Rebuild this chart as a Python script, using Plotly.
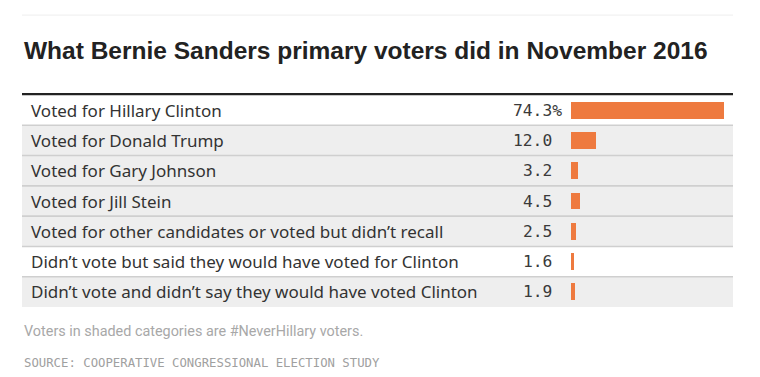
import plotly.graph_objects as go

categories = [
    "Voted for Hillary Clinton",
    "Voted for Donald Trump",
    "Voted for Gary Johnson",
    "Voted for Jill Stein",
    "Voted for other candidates or voted but didn’t recall",
    "Didn’t vote but said they would have voted for Clinton",
    "Didn’t vote and didn’t say they would have voted Clinton",
]
values = [74.3, 12.0, 3.2, 4.5, 2.5, 1.6, 1.9]
value_labels = ["74.3%", "12.0", "3.2", "4.5", "2.5", "1.6", "1.9"]
shaded = [False, True, True, True, True, False, True]

title = "What Bernie Sanders primary voters did in November 2016"
note = "Voters in shaded categories are #NeverHillary voters."
source = "SOURCE: COOPERATIVE CONGRESSIONAL ELECTION STUDY"

ys = list(range(len(categories)))
fig = go.Figure()
fig.add_trace(go.Bar(
    x=values, y=ys, orientation="h", width=0.56,
    marker=dict(color="#ee7a3f", line=dict(width=0)),
    hoverinfo="skip",
))

shapes = []
annotations = []
for i, (cat, lab, sh) in enumerate(zip(categories, value_labels, shaded)):
    if sh:
        shapes.append(dict(type="rect", xref="paper", yref="y", x0=0, x1=1,
                           y0=i - 0.5, y1=i + 0.5, fillcolor="#eeeeee",
                           line=dict(width=0), layer="below"))
    if i > 0:
        shapes.append(dict(type="line", xref="paper", yref="y", x0=0, x1=1,
                           y0=i - 0.5, y1=i - 0.5,
                           line=dict(color="#cfcfcf", width=1.6), layer="below"))
    annotations.append(dict(xref="paper", yref="y", x=0, y=i, xshift=7,
                            xanchor="left", yanchor="middle", text=cat,
                            showarrow=False,
                            font=dict(family="Noto Sans", size=17, color="#333333")))
    annotations.append(dict(xref="x", yref="y", x=0, y=i,
                            xshift=-7 if lab.endswith("%") else -17,
                            xanchor="right", yanchor="middle", text=lab,
                            showarrow=False,
                            font=dict(family="DejaVu Sans Mono", size=16.3, color="#3a3a3a")))

# top black rule
shapes.append(dict(type="line", xref="paper", yref="paper", x0=0, x1=1, y0=1.004, y1=1.004,
                   line=dict(color="#222222", width=2.2)))
# faint top rule
shapes.append(dict(type="line", xref="paper", yref="paper", x0=0, x1=1, y0=1.377, y1=1.377,
                   line=dict(color="#eeeeee", width=1)))

annotations.append(dict(xref="paper", yref="paper", x=0, y=1.21, xanchor="left",
                        yanchor="middle", text="<b>" + title + "</b>", showarrow=False,
                        font=dict(family="Liberation Sans", size=24.5, color="#222222")))
annotations.append(dict(xref="paper", yref="paper", x=0, y=-0.115, xanchor="left",
                        yanchor="middle", text=note, showarrow=False,
                        font=dict(family="Roboto", size=14.4, color="#a8a8a8")))
annotations.append(dict(xref="paper", yref="paper", x=0, y=-0.265, xanchor="left",
                        yanchor="middle", text=source, showarrow=False,
                        font=dict(family="DejaVu Sans Mono", size=12.3, color="#a0a0a0")))

fig.update_layout(
    width=760, height=377,
    margin=dict(l=22, r=27, t=95, b=70),
    paper_bgcolor="white", plot_bgcolor="rgba(0,0,0,0)",
    showlegend=False,
    xaxis=dict(range=[-267.0, 78.8], visible=False, fixedrange=True),
    yaxis=dict(range=[6.5, -0.5], visible=False, fixedrange=True),
    shapes=shapes, annotations=annotations,
    bargap=0,
)
fig.write_html("out.html", config={"displayModeBar": False},
               post_script="document.body.style.margin='0';document.body.style.overflow='hidden';")
